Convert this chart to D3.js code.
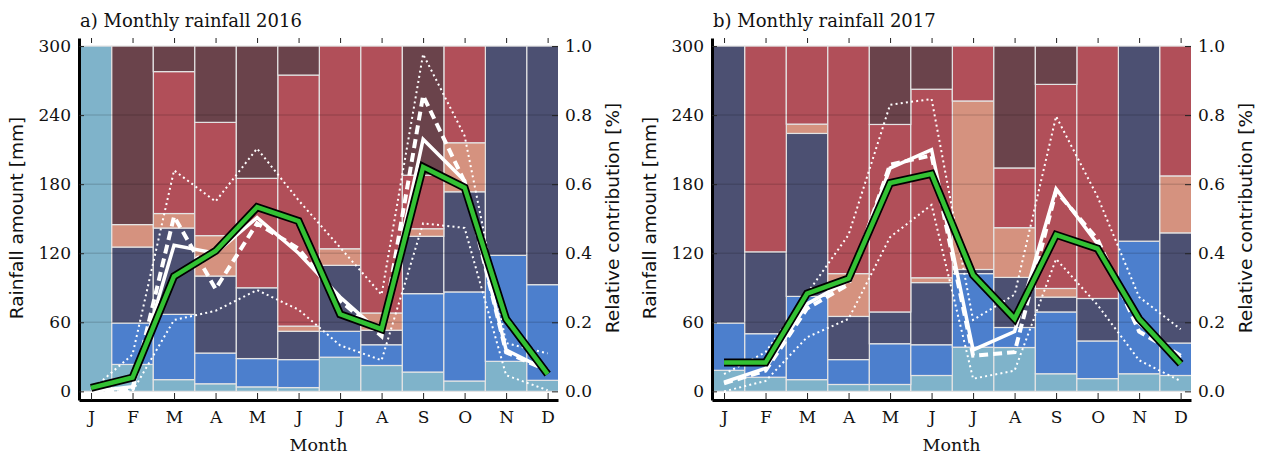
<!DOCTYPE html>
<html>
<head>
<meta charset="utf-8">
<title>Monthly rainfall</title>
<script src="https://cdn.jsdelivr.net/npm/d3@7"></script>
<style>
  body { margin: 0; background: #fff; }
  svg { display: block; background: #fff; }
  .tick text { font-family: "DejaVu Serif", serif; font-size: 17px; fill: #111; }
  .tick line { stroke: #222; stroke-width: 1; }
  .title { font-family: "DejaVu Serif", serif; font-size: 18px; fill: #111; }
  .xlabel { font-family: "DejaVu Serif", serif; font-size: 17.5px; fill: #111; }
  .ylabel { font-family: "DejaVu Sans", sans-serif; font-size: 18.5px; fill: #111; }
</style>
</head>
<body>
<svg width="1261" height="455"></svg>
<script>
var months = ["J", "F", "M", "A", "M", "J", "J", "A", "S", "O", "N", "D"];
var rainTicks = [0, 60, 120, 180, 240, 300];
var fracTicks = [0, 0.2, 0.4, 0.6, 0.8, 1.0];

// relative contribution of each class, bottom to top of the stack
var paleBlue2016 = [1.0, 0.078, 0.034, 0.022, 0.013, 0.011, 0.099, 0.075, 0.056, 0.030, 0.087, 0.032];
var blue2016     = [0, 0.120, 0.189, 0.089, 0.082, 0.081, 0.075, 0.060, 0.227, 0.258, 0.307, 0.277];
var navy2016     = [0, 0.220, 0.250, 0.223, 0.205, 0.082, 0.191, 0.042, 0.166, 0.290, 0.606, 0.691];
var salmon2016   = [0, 0.065, 0.042, 0.117, 0, 0.015, 0.048, 0.050, 0.022, 0.142, 0, 0];
var red2016      = [0, 0, 0.411, 0.328, 0.317, 0.727, 0.587, 0.773, 0.155, 0.280, 0, 0];
var maroon2016   = [0, 0.517, 0.074, 0.221, 0.383, 0.084, 0, 0, 0.374, 0, 0, 0];

var paleBlue2017 = [0.061, 0.041, 0.034, 0.020, 0.020, 0.046, 0.128, 0.127, 0.051, 0.037, 0.051, 0.046];
var blue2017     = [0.137, 0.126, 0.241, 0.072, 0.118, 0.089, 0.213, 0.058, 0.179, 0.109, 0.384, 0.094];
var navy2017     = [0.802, 0.237, 0.472, 0.125, 0.092, 0.180, 0.012, 0.145, 0.043, 0.123, 0.565, 0.319];
var salmon2017   = [0, 0, 0.027, 0.124, 0, 0.014, 0.488, 0.144, 0.025, 0, 0, 0.165];
var red2017      = [0, 0.596, 0.226, 0.659, 0.543, 0.546, 0.159, 0.173, 0.591, 0.731, 0, 0.376];
var maroon2017   = [0, 0, 0, 0, 0.227, 0.125, 0, 0.353, 0.111, 0, 0, 0];

// rainfall amounts [mm]
var observed2016 = [3, 12, 100, 122, 160, 148, 67, 54, 195, 177, 63, 15];
var mean2016     = [0, 4, 127, 120, 151, 120, 82, 50, 219, 183, 36, 18];
var median2016   = [0, 1, 152, 89, 146, 124, 79, 48, 257, 182, 34, 18];
var upper2016    = [1, 32, 192, 165, 211, 166, 125, 84, 293, 222, 42, 33];
var lower2016    = [0, 0, 62, 70, 88, 71, 40, 27, 146, 142, 14, 1];

var observed2017 = [25, 25, 85, 98, 181, 189, 101, 63, 136, 124, 63, 24];
var mean2017     = [8, 20, 76, 96, 194, 210, 36, 52, 176, 128, 59, 29];
var median2017   = [7, 18, 72, 93, 197, 205, 31, 34, 174, 132, 52, 31];
var upper2017    = [15, 34, 85, 136, 249, 254, 62, 84, 239, 169, 82, 54];
var lower2017    = [0, 9, 47, 63, 134, 162, 11, 18, 115, 75, 27, 9];

var keys = ["paleBlue", "blue", "navy", "salmon", "red", "maroon"];
var colors = {
  paleBlue: "#7fb3ca", blue: "#4c7fcd", navy: "#4c5072",
  salmon: "#d5927f", red: "#b14f59", maroon: "#6a434b"
};

var svg = d3.select("svg");

function drawPanel(left, title, parts, obs, mean, median, upper, lower) {
  var width = 479, top = 38, bottom = 400;
  var x = d3.scaleLinear().domain([-0.29, 11.25]).range([left, left + width]);
  var y = d3.scaleLinear().domain([-7.5, 307]).range([bottom, top]);
  var yFrac = d3.scaleLinear().domain([-7.5 / 300, 307 / 300]).range([bottom, top]);

  var clipId = "clip" + left;
  svg.append("clipPath").attr("id", clipId)
    .append("rect").attr("x", left).attr("y", top)
    .attr("width", width).attr("height", bottom - top);

  var rows = months.map(function(m, i) {
    var r = {i: i};
    keys.forEach(function(k) { r[k] = parts[k][i]; });
    return r;
  });
  var series = d3.stack().keys(keys)(rows);

  var g = svg.append("g").attr("clip-path", "url(#" + clipId + ")");

  g.selectAll(".layer")
    .data(series)
    .enter().append("g")
    .attr("fill", function(d) { return colors[d.key]; })
    .selectAll("rect")
    .data(function(d) { return d.filter(function(v) { return v[1] - v[0] > 0; }); })
    .enter().append("rect")
    .attr("x", function(d) { return x(d.data.i - 0.5); })
    .attr("width", x(1) - x(0))
    .attr("y", function(d) { return yFrac(d[1]); })
    .attr("height", function(d) { return yFrac(d[0]) - yFrac(d[1]); })
    .attr("stroke", "#e4e4e4")
    .attr("stroke-width", 1.2);

  // faint grid lines showing through the bars
  g.selectAll(".grid")
    .data(rainTicks.slice(1, 5))
    .enter().append("line")
    .attr("x1", left).attr("x2", left + width)
    .attr("y1", function(d) { return y(d); })
    .attr("y2", function(d) { return y(d); })
    .attr("stroke", "rgba(0,0,0,0.13)")
    .attr("stroke-width", 1.5);

  var line = d3.line()
    .x(function(d, i) { return x(i); })
    .y(function(d) { return y(d); });

  [upper, lower].forEach(function(s) {
    g.append("path").attr("d", line(s))
      .attr("fill", "none").attr("stroke", "#fff")
      .attr("stroke-width", 2).attr("stroke-dasharray", "2,3.2");
  });

  g.append("path").attr("d", line(median))
    .attr("fill", "none").attr("stroke", "#fff")
    .attr("stroke-width", 4).attr("stroke-dasharray", "9,5");

  g.append("path").attr("d", line(mean))
    .attr("fill", "none").attr("stroke", "#fff")
    .attr("stroke-width", 3.5);

  g.append("path").attr("d", line(obs))
    .attr("fill", "none").attr("stroke", "#000")
    .attr("stroke-width", 8).attr("stroke-linejoin", "miter");
  g.append("path").attr("d", line(obs))
    .attr("fill", "none").attr("stroke", "#33c133")
    .attr("stroke-width", 4.5).attr("stroke-linejoin", "miter");

  // axes
  var leftAxis = svg.append("g")
    .attr("transform", "translate(" + left + ",0)")
    .call(d3.axisLeft(y).tickValues(rainTicks).tickSize(-5).tickSizeOuter(0).tickPadding(8));
  leftAxis.select(".domain").attr("stroke", "#000").attr("stroke-width", 3);

  var rightAxis = svg.append("g")
    .attr("transform", "translate(" + (left + width) + ",0)")
    .call(d3.axisRight(yFrac).tickValues(fracTicks).tickFormat(d3.format(".1f"))
      .tickSize(-6).tickSizeOuter(0).tickPadding(7));
  rightAxis.select(".domain").remove();

  var topAxis = svg.append("g")
    .attr("transform", "translate(0," + top + ")")
    .call(d3.axisTop(x).tickValues(d3.range(12)).tickFormat("").tickSize(-5).tickSizeOuter(0));
  topAxis.select(".domain").remove();

  var bottomAxis = svg.append("g")
    .attr("transform", "translate(0," + bottom + ")")
    .call(d3.axisBottom(x).tickValues(d3.range(12))
      .tickFormat(function(i) { return months[i]; })
      .tickSize(-7).tickSizeOuter(0).tickPadding(11));
  bottomAxis.select(".domain").attr("stroke", "#000").attr("stroke-width", 3);

  svg.append("text").attr("class", "title")
    .attr("x", left + 1).attr("y", 27).text(title);

  svg.append("text").attr("class", "xlabel")
    .attr("x", left + width / 2).attr("y", 451)
    .attr("text-anchor", "middle").text("Month");

  svg.append("text").attr("class", "ylabel")
    .attr("transform", "translate(" + (left - 63) + ",218) rotate(-90)")
    .attr("text-anchor", "middle").attr("dominant-baseline", "central")
    .text("Rainfall amount [mm]");

  svg.append("text").attr("class", "ylabel")
    .attr("transform", "translate(" + (left + 533) + ",218) rotate(-90)")
    .attr("text-anchor", "middle").attr("dominant-baseline", "central")
    .text("Relative contribution [%]");
}

drawPanel(79, "a) Monthly rainfall 2016",
  {paleBlue: paleBlue2016, blue: blue2016, navy: navy2016, salmon: salmon2016, red: red2016, maroon: maroon2016},
  observed2016, mean2016, median2016, upper2016, lower2016);

drawPanel(712, "b) Monthly rainfall 2017",
  {paleBlue: paleBlue2017, blue: blue2017, navy: navy2017, salmon: salmon2017, red: red2017, maroon: maroon2017},
  observed2017, mean2017, median2017, upper2017, lower2017);
</script>
</body>
</html>
